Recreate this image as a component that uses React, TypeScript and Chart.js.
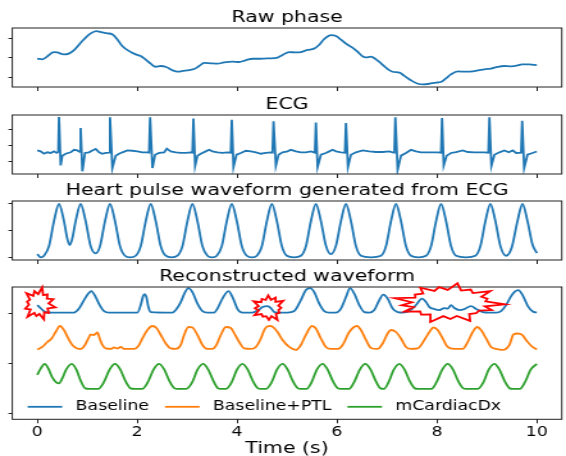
import React, { useEffect, useRef } from 'react';
import { Chart, registerables } from 'chart.js';

Chart.register(...registerables);

// ---------------- data ----------------
const TIME_TICKS = [0, 2, 4, 6, 8, 10];
const RAW_TICKS = [-1, 0, 1];
const ECG_TICKS = [-1, 0, 1];
const PULSE_TICKS = [0, 0.5, 1];
const REC_TICKS = [-2, -1, 0];

const TITLES = ['Raw phase', 'ECG', 'Heart pulse waveform generated from ECG', 'Reconstructed waveform'];
const SERIES_LABELS = ['Baseline', 'Baseline+PTL', 'mCardiacDx'];
const X_LABEL = 'Time (s)';

const RAW_PHASE: number[][] = [
  [0, -0.04], [0.1, -0.07], [0.17, 0.02], [0.33, 0.31], [0.4, 0.29], [0.53, 0.19], [0.63, 0.23], [0.73, 0.4],
  [0.9, 0.89], [1.07, 1.29], [1.18, 1.41], [1.3, 1.34], [1.4, 1.29], [1.5, 1.24], [1.6, 0.98], [1.7, 0.63],
  [1.84, 0.36], [1.97, 0.19], [2.07, 0.1], [2.17, -0.09], [2.27, -0.3], [2.37, -0.46], [2.47, -0.42], [2.58, -0.47],
  [2.71, -0.65], [2.81, -0.72], [2.91, -0.68], [3.04, -0.63], [3.14, -0.58], [3.24, -0.42], [3.34, -0.26], [3.47, -0.28],
  [3.61, -0.3], [3.74, -0.23], [3.91, -0.19], [4.04, -0.21], [4.17, -0.12], [4.31, -0.04], [4.47, -0.04], [4.64, -0.02],
  [4.81, 0.02], [4.91, 0.16], [5.04, 0.31], [5.18, 0.29], [5.28, 0.31], [5.41, 0.42], [5.54, 0.49], [5.64, 0.68],
  [5.74, 0.98], [5.88, 1.2], [5.98, 1.15], [6.08, 0.96], [6.18, 0.75], [6.31, 0.54], [6.41, 0.33], [6.51, 0.09],
  [6.58, 0.03], [6.68, 0.07], [6.78, -0.07], [6.88, -0.28], [6.98, -0.51], [7.11, -0.72], [7.25, -0.77], [7.35, -0.94],
  [7.48, -1.17], [7.62, -1.35], [7.72, -1.38], [7.85, -1.35], [7.98, -1.29], [8.08, -1.26], [8.18, -1.07], [8.28, -0.86],
  [8.42, -0.7], [8.58, -0.72], [8.72, -0.7], [8.85, -0.63], [8.98, -0.58], [9.08, -0.56], [9.22, -0.46], [9.35, -0.42],
  [9.48, -0.44], [9.62, -0.39], [9.7, -0.33], [9.85, -0.33], [10, -0.38],
];

const ECG: number[][] = [
  [0, -0.31], [0.067, -0.37], [0.134, -0.52], [0.2, -0.43], [0.267, -0.47], [0.334, -0.37], [0.387, -0.47], [0.421, -0.4],
  [0.434, 1.8], [0.468, -1.26], [0.501, -0.64], [0.568, -0.52], [0.668, -0.43], [0.735, -0.27], [0.802, -0.31], [0.848, -0.4],
  [0.868, 1.11], [0.902, -1.63], [0.955, -0.47], [1.035, -0.43], [1.102, -0.31], [1.169, -0.22], [1.236, -0.43], [1.303, -0.52],
  [1.37, -0.47], [1.436, -0.45], [1.456, 1.78], [1.503, -1.42], [1.57, -0.64], [1.637, -0.52], [1.704, -0.43], [1.804, -0.31],
  [1.904, -0.33], [2.004, -0.37], [2.104, -0.43], [2.204, -0.43], [2.238, -0.45], [2.258, 1.78], [2.305, -1.42], [2.358, -0.58],
  [2.438, -0.47], [2.538, -0.43], [2.592, -0.2], [2.672, -0.37], [2.772, -0.43], [2.872, -0.47], [2.973, -0.47], [3.073, -0.43],
  [3.106, -0.45], [3.126, 1.7], [3.16, -1.28], [3.207, -0.64], [3.273, -0.52], [3.373, -0.37], [3.44, -0.27], [3.507, -0.37],
  [3.607, -0.43], [3.707, -0.47], [3.808, -0.43], [3.874, -0.45], [3.894, 1.63], [3.928, -1.36], [3.988, -0.58], [4.075, -0.47],
  [4.175, -0.33], [4.275, -0.37], [4.376, -0.43], [4.476, -0.52], [4.576, -0.47], [4.676, -0.43], [4.709, -0.45], [4.729, 1.53],
  [4.776, -1.28], [4.83, -0.58], [4.91, -0.43], [5.01, -0.37], [5.077, -0.27], [5.177, -0.37], [5.277, -0.43], [5.377, -0.43],
  [5.478, -0.37], [5.558, -0.45], [5.578, 1.46], [5.611, -1.36], [5.678, -0.58], [5.778, -0.47], [5.845, -0.37], [5.912, -0.27],
  [5.979, -0.37], [6.079, -0.43], [6.159, -0.45], [6.179, 1.42], [6.219, -1.36], [6.279, -0.58], [6.379, -0.43], [6.513, -0.31],
  [6.647, -0.37], [6.78, -0.41], [6.914, -0.41], [7.047, -0.37], [7.114, -0.43], [7.148, -0.45], [7.168, 1.78], [7.214, -1.53],
  [7.281, -0.64], [7.381, -0.47], [7.482, -0.27], [7.582, -0.37], [7.682, -0.43], [7.782, -0.43], [7.916, -0.43], [8.016, -0.43],
  [8.083, -0.45], [8.103, 1.74], [8.136, -1.26], [8.196, -0.64], [8.283, -0.47], [8.383, -0.41], [8.517, -0.31], [8.617, -0.41],
  [8.751, -0.43], [8.851, -0.43], [8.951, -0.43], [9.031, -0.45], [9.051, 1.78], [9.091, -1.28], [9.151, -0.58], [9.252, -0.43],
  [9.352, -0.31], [9.439, -0.43], [9.519, -0.31], [9.586, -0.47], [9.686, -0.45], [9.706, 1.57], [9.746, -1.42], [9.813, -0.58],
  [9.913, -0.47], [10, -0.38],
];

const PULSE: number[][] = [
  [0, 0.06], [0.07, 0.0], [0.134, 0.03], [0.234, 0.21], [0.334, 0.68], [0.434, 1.0], [0.534, 0.68], [0.6, 0.35],
  [0.65, 0.23], [0.7, 0.35], [0.768, 0.68], [0.868, 1.0], [0.968, 0.68], [1.068, 0.21], [1.169, 0.075], [1.256, 0.21],
  [1.356, 0.68], [1.456, 1.0], [1.556, 0.68], [1.656, 0.21], [1.756, 0.03], [1.86, 0.0], [1.97, 0.03], [2.071, 0.21],
  [2.171, 0.68], [2.271, 1.0], [2.371, 0.68], [2.471, 0.21], [2.571, 0.03], [2.69, 0.0], [2.806, 0.03], [2.906, 0.21],
  [3.006, 0.68], [3.106, 1.0], [3.206, 0.68], [3.306, 0.21], [3.406, 0.03], [3.5, 0.0], [3.594, 0.03], [3.694, 0.21],
  [3.794, 0.68], [3.894, 1.0], [3.994, 0.68], [4.094, 0.21], [4.194, 0.03], [4.3, 0.0], [4.396, 0.03], [4.496, 0.21],
  [4.596, 0.68], [4.696, 1.0], [4.796, 0.68], [4.896, 0.21], [4.996, 0.03], [5.14, 0.0], [5.278, 0.03], [5.378, 0.21],
  [5.478, 0.68], [5.578, 1.0], [5.678, 0.68], [5.778, 0.22], [5.878, 0.06], [5.979, 0.22], [6.079, 0.68], [6.179, 1.0],
  [6.279, 0.68], [6.379, 0.21], [6.479, 0.03], [6.68, 0.0], [6.881, 0.03], [6.981, 0.21], [7.081, 0.68], [7.181, 1.0],
  [7.281, 0.68], [7.381, 0.21], [7.481, 0.03], [7.63, 0.0], [7.783, 0.03], [7.883, 0.21], [7.983, 0.68], [8.083, 1.0],
  [8.183, 0.68], [8.283, 0.21], [8.383, 0.03], [8.58, 0.0], [8.771, 0.03], [8.871, 0.21], [8.971, 0.68], [9.071, 1.0],
  [9.171, 0.68], [9.271, 0.21], [9.385, 0.03], [9.5, 0.19], [9.613, 0.68], [9.713, 1.0], [9.813, 0.68], [9.913, 0.24],
  [10, 0.08],
];

const BASELINE: number[][] = [
  [0, 0.17], [0.17, 0.03], [0.3, 0.02], [0.735, 0.02], [0.835, 0.1], [0.935, 0.27], [1.022, 0.4], [1.082, 0.45],
  [1.169, 0.33], [1.249, 0.17], [1.336, 0.05], [1.436, 0.02], [2.004, 0.02], [2.071, 0.17], [2.118, 0.35], [2.144, 0.39],
  [2.184, 0.33], [2.224, 0.13], [2.271, 0.03], [2.705, 0.02], [2.772, 0.07], [2.872, 0.23], [2.959, 0.43], [3.026, 0.51],
  [3.106, 0.43], [3.206, 0.2], [3.307, 0.05], [3.407, 0.02], [3.54, 0.02], [3.607, 0.1], [3.707, 0.3], [3.828, 0.45],
  [3.921, 0.3], [4.008, 0.09], [4.108, 0.02], [4.309, 0.02], [4.442, 0.08], [4.509, 0.13], [4.609, 0.15], [4.676, 0.11],
  [4.743, 0.03], [4.81, 0.02], [5.01, 0.02], [5.144, 0.05], [5.277, 0.27], [5.377, 0.47], [5.464, 0.51], [5.544, 0.43],
  [5.645, 0.2], [5.745, 0.05], [5.845, 0.02], [5.979, 0.02], [6.079, 0.1], [6.179, 0.33], [6.259, 0.51], [6.346, 0.4],
  [6.446, 0.17], [6.546, 0.03], [6.647, 0.02], [6.747, 0.07], [6.847, 0.27], [6.927, 0.38], [7.014, 0.3], [7.114, 0.1],
  [7.214, 0.03], [7.315, 0.02], [7.448, 0.05], [7.582, 0.17], [7.702, 0.3], [7.782, 0.23], [7.849, 0.13], [7.949, 0.09],
  [8.049, 0.07], [8.15, 0.11], [8.216, 0.1], [8.283, 0.17], [8.35, 0.11], [8.45, 0.07], [8.55, 0.09], [8.684, 0.15],
  [8.784, 0.09], [8.918, 0.03], [9.051, 0.02], [9.185, 0.02], [9.285, 0.05], [9.386, 0.17], [9.486, 0.35], [9.56, 0.44],
  [9.63, 0.47], [9.72, 0.36], [9.82, 0.15], [9.92, 0.04], [10, 0.02],
];

const BASELINE_PTL: number[][] = [
  [0, -0.72], [0.1, -0.67], [0.2, -0.57], [0.287, -0.5], [0.367, -0.37], [0.454, -0.25], [0.534, -0.33], [0.621, -0.5],
  [0.701, -0.63], [0.802, -0.7], [0.868, -0.71], [0.955, -0.63], [1.022, -0.5], [1.069, -0.42], [1.116, -0.43], [1.169, -0.41],
  [1.202, -0.38], [1.249, -0.5], [1.303, -0.63], [1.37, -0.7], [1.47, -0.71], [1.537, -0.68], [1.603, -0.7], [1.67, -0.67],
  [1.737, -0.71], [1.837, -0.71], [1.937, -0.71], [2.024, -0.65], [2.104, -0.5], [2.204, -0.33], [2.305, -0.25], [2.385, -0.29],
  [2.472, -0.43], [2.572, -0.6], [2.672, -0.7], [2.772, -0.71], [2.872, -0.63], [2.939, -0.43], [3.026, -0.27], [3.106, -0.28],
  [3.206, -0.43], [3.307, -0.63], [3.407, -0.71], [3.507, -0.71], [3.587, -0.63], [3.674, -0.43], [3.774, -0.27], [3.874, -0.29],
  [3.961, -0.43], [4.041, -0.57], [4.142, -0.7], [4.275, -0.71], [4.376, -0.67], [4.476, -0.5], [4.543, -0.33], [4.6, -0.26],
  [4.68, -0.25], [4.76, -0.31], [4.81, -0.37], [4.91, -0.53], [5.043, -0.67], [5.177, -0.73], [5.277, -0.63], [5.377, -0.43],
  [5.498, -0.25], [5.578, -0.3], [5.678, -0.5], [5.778, -0.67], [5.878, -0.71], [6.012, -0.71], [6.112, -0.63], [6.246, -0.37],
  [6.399, -0.25], [6.479, -0.33], [6.58, -0.53], [6.68, -0.69], [6.814, -0.71], [6.914, -0.6], [7.014, -0.4], [7.081, -0.33],
  [7.181, -0.37], [7.281, -0.5], [7.381, -0.67], [7.482, -0.71], [7.615, -0.7], [7.749, -0.53], [7.849, -0.37], [7.929, -0.28],
  [8.016, -0.33], [8.116, -0.5], [8.216, -0.67], [8.35, -0.71], [8.517, -0.71], [8.617, -0.57], [8.717, -0.37], [8.804, -0.27],
  [8.884, -0.33], [8.985, -0.5], [9.085, -0.67], [9.185, -0.71], [9.319, -0.73], [9.452, -0.63], [9.532, -0.42], [9.619, -0.4],
  [9.706, -0.43], [9.8, -0.55], [9.9, -0.66], [10, -0.72],
];

const MCARDIACDX: number[][] = [
  [0, -1.23], [0.07, -1.1], [0.147, -1.01], [0.22, -1.1], [0.3, -1.28], [0.38, -1.38], [0.434, -1.4], [0.5, -1.3],
  [0.58, -1.12], [0.688, -1.01], [0.78, -1.12], [0.87, -1.35], [0.96, -1.5], [1.05, -1.51], [1.22, -1.51], [1.33, -1.38],
  [1.45, -1.12], [1.556, -1.01], [1.66, -1.12], [1.77, -1.36], [1.87, -1.5], [1.95, -1.51], [2.1, -1.51], [2.21, -1.38],
  [2.33, -1.12], [2.438, -1.01], [2.54, -1.12], [2.65, -1.36], [2.75, -1.5], [2.8, -1.51], [2.98, -1.51], [3.1, -1.38],
  [3.21, -1.12], [3.32, -1.01], [3.42, -1.12], [3.53, -1.36], [3.62, -1.5], [3.67, -1.51], [3.78, -1.51], [3.89, -1.38],
  [4.0, -1.12], [4.108, -1.01], [4.21, -1.12], [4.32, -1.36], [4.42, -1.5], [4.47, -1.51], [4.58, -1.51], [4.69, -1.38],
  [4.8, -1.12], [4.91, -1.01], [5.01, -1.12], [5.12, -1.36], [5.22, -1.5], [5.27, -1.51], [5.39, -1.51], [5.49, -1.38],
  [5.6, -1.12], [5.711, -1.01], [5.81, -1.12], [5.92, -1.36], [6.02, -1.5], [6.07, -1.51], [6.24, -1.51], [6.34, -1.38],
  [6.46, -1.12], [6.566, -1.01], [6.67, -1.12], [6.78, -1.36], [6.87, -1.5], [6.94, -1.51], [7.03, -1.38], [7.14, -1.12],
  [7.248, -1.01], [7.35, -1.12], [7.46, -1.36], [7.56, -1.5], [7.62, -1.51], [7.89, -1.51], [7.99, -1.38], [8.11, -1.12],
  [8.216, -1.01], [8.32, -1.12], [8.43, -1.36], [8.53, -1.5], [8.58, -1.51], [8.82, -1.51], [8.93, -1.38], [9.04, -1.12],
  [9.152, -1.01], [9.25, -1.12], [9.36, -1.36], [9.46, -1.5], [9.52, -1.51], [9.66, -1.51], [9.76, -1.38], [9.88, -1.12],
  [10, -1.01],
];

// highlighted regions on the reconstructed panel (time, value)
const BURST_T = [0.03, 4.63, 8.24];
const BURST_V = [0.19, 0.11, 0.21];

// ---------------- styles / layout ----------------
const PAGE_W = 566;
const PAGE_H = 456;
const BUF_W = 442; // canvas drawn narrower and stretched to the page width
const SX = PAGE_W / BUF_W;
const FONT = 'DejaVu Sans';
const AXIS_COLOR = '#222222';
const BLUE = '#1f77b4';
const ORANGE = '#ff7f0e';
const GREEN = '#2ca02c';
const LINE_W = 1.8;
const BURST_RX = [17, 17, 56];
const BURST_RY = [17, 14, 20];
const BURST_SPIKES = [12, 12, 17];
const BURST_INNER = [0.58, 0.6, 0.66];
const SPIKE_F = [1, 0.78, 0.95, 0.72, 1, 0.84, 0.7, 0.97, 0.8, 1, 0.76, 0.9, 0.85, 1, 0.74, 0.92, 0.82];

const pts = (arr: number[][]) => arr.map(([x, y]) => ({ x, y }));

type Panel = {
  title: string;
  top: number;
  height: number;
  xAxisH: number;
  yMin: number;
  yMax: number;
  yTicks: number[];
  datasets: any[];
  bottom?: boolean;
  extras?: boolean;
};

const line = (label: string, data: number[][], color: string, smooth = true) => ({
  label,
  data: pts(data),
  borderColor: color,
  backgroundColor: color,
  borderWidth: LINE_W,
  pointRadius: 0,
  fill: false,
  tension: 0,
  cubicInterpolationMode: smooth ? 'monotone' : 'default',
});

const PANELS: Panel[] = [
  { title: TITLES[0], top: 0, height: 92, xAxisH: 5, yMin: -1.52, yMax: 1.57, yTicks: RAW_TICKS,
    datasets: [line('', RAW_PHASE, BLUE)] },
  { title: TITLES[1], top: 87, height: 92, xAxisH: 5, yMin: -1.8, yMax: 1.93, yTicks: ECG_TICKS,
    datasets: [line('', ECG, BLUE, false)] },
  { title: TITLES[2], top: 173, height: 92, xAxisH: 5, yMin: -0.05, yMax: 1.056, yTicks: PULSE_TICKS,
    datasets: [line('', PULSE, BLUE)] },
  { title: TITLES[3], top: 259, height: PAGE_H - 259, xAxisH: 36.7, yMin: -2.12, yMax: 0.532, yTicks: REC_TICKS,
    datasets: [line(SERIES_LABELS[0], BASELINE, BLUE), line(SERIES_LABELS[1], BASELINE_PTL, ORANGE), line(SERIES_LABELS[2], MCARDIACDX, GREEN)],
    bottom: true, extras: true },
];

const framePlugin = {
  id: 'frame',
  afterDatasetsDraw(chart: any) {
    const { ctx, chartArea: a } = chart;
    ctx.save();
    ctx.strokeStyle = AXIS_COLOR;
    ctx.lineWidth = 1;
    ctx.strokeRect(a.left, a.top, a.right - a.left, a.bottom - a.top);
    ctx.restore();
  },
};

const legendPlugin = {
  id: 'innerLegend',
  afterDatasetsDraw(chart: any) {
    const { ctx, chartArea: a } = chart;
    ctx.save();
    ctx.font = `13.5px "${FONT}"`;
    ctx.textBaseline = 'middle';
    ctx.textAlign = 'left';
    let x = a.left + 12;
    const y = a.bottom - 12.5;
    chart.data.datasets.forEach((ds: any) => {
      ctx.strokeStyle = ds.borderColor;
      ctx.lineWidth = LINE_W;
      ctx.beginPath();
      ctx.moveTo(x, y);
      ctx.lineTo(x + 27, y);
      ctx.stroke();
      x += 27 + 10.5;
      ctx.fillStyle = '#000';
      ctx.fillText(ds.label, x, y);
      x += ctx.measureText(ds.label).width + 12.5;
    });
    ctx.restore();
  },
};

const burstPlugin = {
  id: 'bursts',
  afterDraw(chart: any) {
    const { ctx } = chart;
    const xs = chart.scales.x;
    const ys = chart.scales.y;
    ctx.save();
    ctx.strokeStyle = '#ff0000';
    ctx.lineWidth = 1.8;
    ctx.lineJoin = 'miter';
    BURST_T.forEach((t, k) => {
      const cx = xs.getPixelForValue(t);
      const cy = ys.getPixelForValue(BURST_V[k]);
      const rx = BURST_RX[k] / SX;
      const ry = BURST_RY[k];
      const n = BURST_SPIKES[k];
      ctx.beginPath();
      for (let i = 0; i < 2 * n; i++) {
        const ang = (i * Math.PI) / n + 0.2 + k * 0.3;
        const f = i % 2 === 0 ? SPIKE_F[(i / 2 + k * 3) % SPIKE_F.length] : BURST_INNER[k];
        const px = cx + rx * f * Math.cos(ang);
        const py = cy + ry * f * Math.sin(ang);
        if (i === 0) ctx.moveTo(px, py);
        else ctx.lineTo(px, py);
      }
      ctx.closePath();
      ctx.stroke();
    });
    ctx.restore();
  },
};

function buildConfig(p: Panel): any {
  const grid = { display: true, drawOnChartArea: false, drawTicks: true, color: AXIS_COLOR, lineWidth: 1 };
  return {
    type: 'line',
    data: { datasets: p.datasets },
    plugins: p.extras ? [framePlugin, legendPlugin, burstPlugin] : [framePlugin],
    options: {
      animation: false,
      responsive: false,
      devicePixelRatio: 1,
      events: [],
      layout: { padding: { top: 7.8, left: 0, right: 3.3, bottom: 0 } },
      plugins: {
        legend: { display: false },
        tooltip: { enabled: false },
        title: {
          display: true,
          text: p.title,
          color: '#000',
          font: { family: FONT, size: 16, weight: 'normal' },
          padding: { top: 0, bottom: 1 },
          fullSize: false,
        },
      },
      scales: {
        x: {
          type: 'linear',
          min: -0.5,
          max: 10.5,
          afterBuildTicks: (s: any) => { s.ticks = TIME_TICKS.map((v) => ({ value: v })); },
          afterFit: (s: any) => { s.height = p.xAxisH; },
          ticks: {
            display: !!p.bottom,
            color: '#000',
            font: { family: FONT, size: 13.5 },
            padding: 1,
            maxRotation: 0,
            callback: (v: any) => String(v),
          },
          grid: { ...grid, tickLength: 4 },
          border: { display: false },
          title: {
            display: !!p.bottom,
            text: X_LABEL,
            color: '#000',
            font: { family: FONT, size: 16 },
            padding: { top: 0, bottom: -2 },
          },
        },
        y: {
          type: 'linear',
          min: p.yMin,
          max: p.yMax,
          afterBuildTicks: (s: any) => { s.ticks = p.yTicks.map((v) => ({ value: v })); },
          afterFit: (s: any) => { s.width = 9.6; },
          ticks: { display: false },
          grid: { ...grid, tickLength: 3 },
          border: { display: false },
        },
      },
    },
  };
}

function PanelChart({ panel }: { panel: Panel }) {
  const ref = useRef<HTMLCanvasElement>(null);
  useEffect(() => {
    const chart = new Chart(ref.current as HTMLCanvasElement, buildConfig(panel));
    return () => chart.destroy();
  }, [panel]);
  return (
    <canvas
      ref={ref}
      width={BUF_W}
      height={panel.height}
      style={{ position: 'absolute', left: 0, top: panel.top, width: PAGE_W + 'px', height: panel.height + 'px' }}
    />
  );
}

export default function App() {
  return (
    <div style={{ position: 'absolute', left: 0, top: 0, width: PAGE_W, height: PAGE_H, background: '#fff', overflow: 'hidden' }}>
      {PANELS.map((p) => (
        <PanelChart key={p.title} panel={p} />
      ))}
    </div>
  );
}
